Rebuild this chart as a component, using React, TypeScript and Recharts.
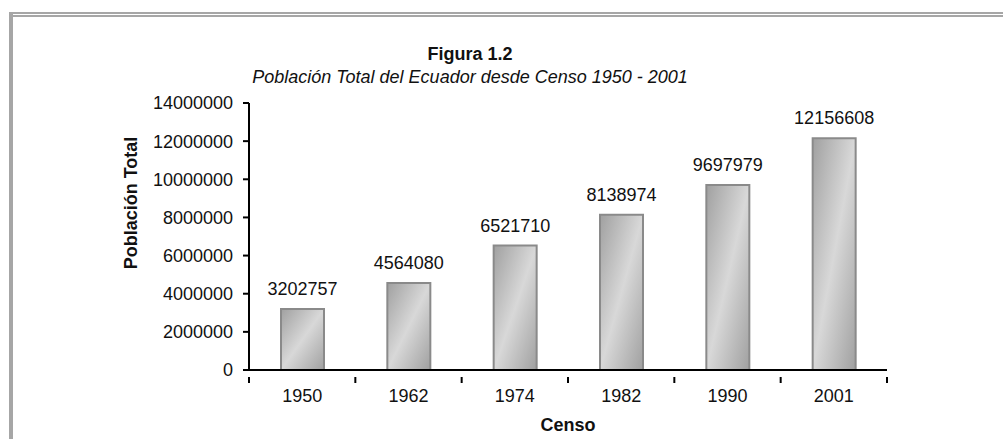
import { Bar, BarChart, LabelList, XAxis, YAxis } from 'recharts'

const censos = ['1950', '1962', '1974', '1982', '1990', '2001']
const poblacion = [3202757, 4564080, 6521710, 8138974, 9697979, 12156608]
const yTicks = [0, 2000000, 4000000, 6000000, 8000000, 10000000, 12000000, 14000000]

const data = censos.map((censo, i) => ({ censo, poblacion: poblacion[i] }))

const W = 1003
const H = 439
const LEFT = 249
const RIGHT = 116
const TOP = 103
const X_AXIS_H = 69
const PLOT_W = W - LEFT - RIGHT
const HALF_BAND = PLOT_W / censos.length / 2
const FONT = '"Liberation Sans", Arial, sans-serif'

function CensoTick(props: any) {
  const { x, y, payload, index } = props
  return (
    <g>
      <line x1={x - HALF_BAND} x2={x - HALF_BAND} y1={y - 1} y2={y + 5} stroke="#000" strokeWidth={2} />
      {index === censos.length - 1 && (
        <line x1={x + HALF_BAND} x2={x + HALF_BAND} y1={y - 1} y2={y + 5} stroke="#000" strokeWidth={2} />
      )}
      <text x={x} y={y + 24} textAnchor="middle" fontSize={18} fill="#111" fontFamily={FONT}>
        {payload.value}
      </text>
    </g>
  )
}

export default function App() {
  return (
    <div style={{ position: 'absolute', left: 0, top: 0, width: W, height: H, background: '#fff', fontFamily: FONT }}>
      {/* marco gris */}
      <div style={{ position: 'absolute', left: 9, top: 12, width: W - 9, height: 2, background: '#a6a6a6' }} />
      <div style={{ position: 'absolute', left: 12, top: 15, width: W - 12, height: 2, background: '#a6a6a6' }} />
      <div style={{ position: 'absolute', left: 9, top: 12, width: 4, height: H - 12, background: '#a6a6a6' }} />

      <div style={{ position: 'absolute', left: 0, width: 940, top: 44, textAlign: 'center', fontSize: 18, fontWeight: 'bold', color: '#111' }}>
        Figura 1.2
      </div>
      <div style={{ position: 'absolute', left: 0, width: 940, top: 67, textAlign: 'center', fontSize: 18, fontStyle: 'italic', color: '#111' }}>
        Población Total del Ecuador desde Censo 1950 - 2001
      </div>

      <div style={{ position: 'absolute', left: 0, top: 0 }}>
        <BarChart
          width={W}
          height={H}
          data={data}
          margin={{ top: TOP, right: RIGHT, left: 0, bottom: 0 }}
          barSize={43}
        >
          <defs>
            <linearGradient id="barGrad" x1="0" y1="0" x2="1" y2="1">
              <stop offset="0%" stopColor="#a0a0a0" />
              <stop offset="50%" stopColor="#d8d8d8" />
              <stop offset="100%" stopColor="#a0a0a0" />
            </linearGradient>
          </defs>
          <XAxis
            dataKey="censo"
            height={X_AXIS_H}
            axisLine={{ stroke: '#000', strokeWidth: 2 }}
            tickLine={false}
            tick={<CensoTick />}
            interval={0}
            label={{ value: 'Censo', position: 'insideBottom', offset: 8, fontSize: 18, fontWeight: 'bold', fill: '#111', fontFamily: FONT }}
          />
          <XAxis xAxisId="top" dataKey="censo" orientation="top" height={0} tick={false} tickLine={false} axisLine={{ stroke: '#000', strokeWidth: 2 }} />
          <YAxis
            width={LEFT}
            domain={[0, 14000000]}
            ticks={yTicks}
            interval={0}
            axisLine={{ stroke: '#000', strokeWidth: 2 }}
            tickLine={{ stroke: '#000', strokeWidth: 2 }}
            tickSize={6}
            tickMargin={10}
            tick={{ fontSize: 18, fill: '#111', fontFamily: FONT }}
          />
          <YAxis yAxisId="right" orientation="right" width={0} tick={false} tickLine={false} axisLine={{ stroke: '#000', strokeWidth: 2 }} />
          <Bar dataKey="poblacion" fill="url(#barGrad)" stroke="#8a8a8a" strokeWidth={2} isAnimationActive={false}>
            <LabelList dataKey="poblacion" position="top" offset={14} fontSize={18} fill="#111" fontFamily={FONT} />
          </Bar>
        </BarChart>
      </div>

      <svg width={W} height={H} style={{ position: 'absolute', left: 0, top: 0, pointerEvents: 'none' }}>
        <text
          x={131}
          y={203}
          transform="rotate(-90 131 203)"
          textAnchor="middle"
          dominantBaseline="central"
          fontSize={18}
          fontWeight="bold"
          fill="#111"
          fontFamily={FONT}
        >
          Población Total
        </text>
      </svg>
    </div>
  )
}
